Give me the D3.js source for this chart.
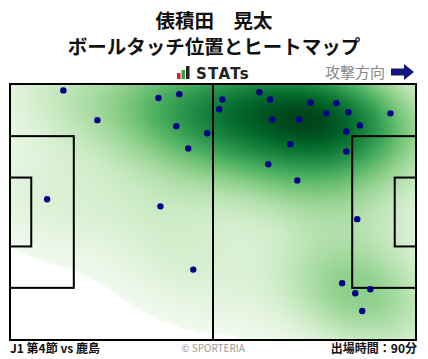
<!DOCTYPE html>
<html>
<head>
<meta charset="utf-8">
<script src="https://d3js.org/d3.v7.min.js"></script>
<style>
  body { margin: 0; background: #fff; }
  text { font-family: "Noto Sans CJK JP", "Noto Sans", sans-serif; }
</style>
</head>
<body>
<div id="chart"></div>
<script>
// ball touches, pitch metres (105 x 68), attacking left -> right
var touchX = [13.8, 38.4, 43.8, 22.6, 43.0, 51.0, 46.1, 9.6, 38.9, 54.9, 54.1,
              64.5, 67.3, 77.7, 84.4, 81.8, 87.5, 98.4, 67.8, 74.8, 90.5, 87.0,
              72.5, 87.0, 66.8, 74.3, 89.8, 47.4, 85.9, 89.3, 93.2, 91.1];
var touchY = [1.7, 3.7, 2.7, 9.6, 11.2, 13.1, 17.1, 30.6, 32.5, 4.1, 6.7,
              2.2, 4.1, 4.9, 5.1, 7.8, 7.5, 7.8, 9.4, 9.4, 11.0, 12.6,
              16.0, 17.9, 21.3, 25.6, 35.9, 49.3, 52.9, 55.6, 54.5, 60.3];

var titleLines = ["俵積田　晃太", "ボールタッチ位置とヒートマップ"];
var matchLabel = "J1 第4節 vs 鹿島";
var minutesLabel = "出場時間：90分";
var directionLabel = "攻撃方向";

var W = 428, H = 359;

var svg = d3.select("#chart").append("svg")
    .attr("width", W)
    .attr("height", H);

var x = d3.scaleLinear().domain([0, 105]).range([10, 416]);
var y = d3.scaleLinear().domain([0, 68]).range([84, 340]);

// ---- heatmap: gaussian kde (scott bandwidth, full covariance) ----
var pts = touchX.map(function(d, i) { return [x(d), y(touchY[i])]; });
var n = pts.length;
var mx = d3.mean(pts, function(p) { return p[0]; });
var my = d3.mean(pts, function(p) { return p[1]; });
var sxx = 0, syy = 0, sxy = 0;
pts.forEach(function(p) {
  sxx += (p[0] - mx) * (p[0] - mx);
  syy += (p[1] - my) * (p[1] - my);
  sxy += (p[0] - mx) * (p[1] - my);
});
sxx /= (n - 1); syy /= (n - 1); sxy /= (n - 1);
var f = Math.pow(n, -1 / 6) * 1.02;
var a = sxx * f * f, b = sxy * f * f, c = syy * f * f;
var det = a * c - b * b;
var ia = c / det, ib = -b / det, ic = a / det;

function kde(px, py) {
  var s = 0;
  for (var k = 0; k < n; k++) {
    var dx = px - pts[k][0], dy = py - pts[k][1];
    s += Math.exp(-0.5 * (ia * dx * dx + 2 * ib * dx * dy + ic * dy * dy));
  }
  return s;
}

// threshold: lowest 2% of the mass over the data extent +- 3 bandwidths
var cut = 3, bx = Math.sqrt(a), by = Math.sqrt(c);
var ex0 = d3.min(pts, function(p) { return p[0]; }) - cut * bx,
    ex1 = d3.max(pts, function(p) { return p[0]; }) + cut * bx,
    ey0 = d3.min(pts, function(p) { return p[1]; }) - cut * by,
    ey1 = d3.max(pts, function(p) { return p[1]; }) + cut * by;
var ext = [];
for (var gy = ey0; gy <= ey1; gy += 4) {
  for (var gx = ex0; gx <= ex1; gx += 4) ext.push(kde(gx, gy));
}
ext.sort(function(p, q) { return q - p; });
var total = d3.sum(ext), acc = 0, thr = 0;
for (var q = 0; q < ext.length; q++) {
  acc += ext[q];
  if (acc >= total * 0.98) { thr = ext[q]; break; }
}
var dmax = ext[0];

var color = d3.scaleSequential(function(t) {
      return d3.interpolateGreens(0.04 + 0.96 * Math.pow(t, 0.85));
    })
    .domain([thr, dmax]);

var cell = 2;
var gw = Math.ceil((x(105) - x(0)) / cell), gh = Math.ceil((y(68) - y(0)) / cell);
var canvas = document.createElement("canvas");
canvas.width = gw; canvas.height = gh;
var ctx = canvas.getContext("2d");
var img = ctx.createImageData(gw, gh);
for (var j = 0; j < gh; j++) {
  for (var i = 0; i < gw; i++) {
    var m = j * gw + i;
    var v = kde(x(0) + (i + 0.5) * cell, y(0) + (j + 0.5) * cell);
    if (v < thr) { img.data[m * 4 + 3] = 0; continue; }
    var col = d3.rgb(color(Math.min(v, dmax)));
    img.data[m * 4] = col.r;
    img.data[m * 4 + 1] = col.g;
    img.data[m * 4 + 2] = col.b;
    img.data[m * 4 + 3] = 255;
  }
}
ctx.putImageData(img, 0, 0);

svg.append("image")
    .attr("x", x(0)).attr("y", y(0))
    .attr("width", x(105) - x(0)).attr("height", y(68) - y(0))
    .attr("preserveAspectRatio", "none")
    .attr("href", canvas.toDataURL());

// ---- pitch lines ----
var lines = svg.append("g")
    .attr("fill", "none")
    .attr("stroke", "#000")
    .attr("stroke-width", 2);

lines.append("rect")
    .attr("x", x(0)).attr("y", y(0))
    .attr("width", x(105) - x(0)).attr("height", y(68) - y(0));
lines.append("line")
    .attr("x1", x(52.5)).attr("x2", x(52.5))
    .attr("y1", y(0)).attr("y2", y(68));
// penalty areas and goal areas
[[0, 16.5], [105 - 16.5, 105]].forEach(function(r) {
  lines.append("rect")
      .attr("x", x(r[0])).attr("y", y(13.85))
      .attr("width", x(r[1]) - x(r[0])).attr("height", y(54.15) - y(13.85));
});
[[0, 5.5], [105 - 5.5, 105]].forEach(function(r) {
  lines.append("rect")
      .attr("x", x(r[0])).attr("y", y(24.85))
      .attr("width", x(r[1]) - x(r[0])).attr("height", y(43.15) - y(24.85));
});

// ---- touches ----
svg.append("g").selectAll("circle")
    .data(pts)
    .join("circle")
    .attr("cx", function(d) { return d[0]; })
    .attr("cy", function(d) { return d[1]; })
    .attr("r", 3.2)
    .attr("fill", "#00008b");

// ---- titles ----
svg.selectAll(".title")
    .data(titleLines)
    .join("text")
    .attr("class", "title")
    .attr("x", W / 2)
    .attr("y", function(d, i) { return 28 + i * 26; })
    .attr("text-anchor", "middle")
    .attr("font-size", 19.5)
    .attr("font-weight", "bold")
    .attr("fill", "#111")
    .text(function(d) { return d; });

// STATs logo
var logo = svg.append("g");
logo.append("rect").attr("x", 177).attr("y", 73).attr("width", 3.5).attr("height", 6).attr("fill", "#e02020");
logo.append("rect").attr("x", 181.5).attr("y", 70).attr("width", 3.5).attr("height", 9).attr("fill", "#30a040");
logo.append("rect").attr("x", 186).attr("y", 66).attr("width", 3.5).attr("height", 13).attr("fill", "#222");
logo.append("text")
    .attr("x", 196).attr("y", 79)
    .attr("font-size", 15).attr("font-weight", "bold")
    .attr("letter-spacing", 1.3)
    .attr("fill", "#222")
    .style("font-family", "'DejaVu Sans', sans-serif")
    .text("STATs");

// attack direction
svg.append("text")
    .attr("x", 385).attr("y", 78)
    .attr("text-anchor", "end")
    .attr("font-size", 15)
    .attr("fill", "#888")
    .text(directionLabel);
svg.append("path")
    .attr("d", "M391,68.5 H404 V64 L414,72 L404,80 V75.5 H391 Z")
    .attr("fill", "#141480");

// footer
svg.append("text")
    .attr("x", 10).attr("y", 353)
    .attr("font-size", 12).attr("font-weight", "bold")
    .attr("fill", "#111")
    .text(matchLabel);
svg.append("text")
    .attr("x", 213).attr("y", 352)
    .attr("text-anchor", "middle")
    .attr("font-size", 10)
    .attr("fill", "#999")
    .text("© SPORTERIA");
svg.append("text")
    .attr("x", 417).attr("y", 353)
    .attr("text-anchor", "end")
    .attr("font-size", 12).attr("font-weight", "bold")
    .attr("fill", "#111")
    .text(minutesLabel);
</script>
</body>
</html>
